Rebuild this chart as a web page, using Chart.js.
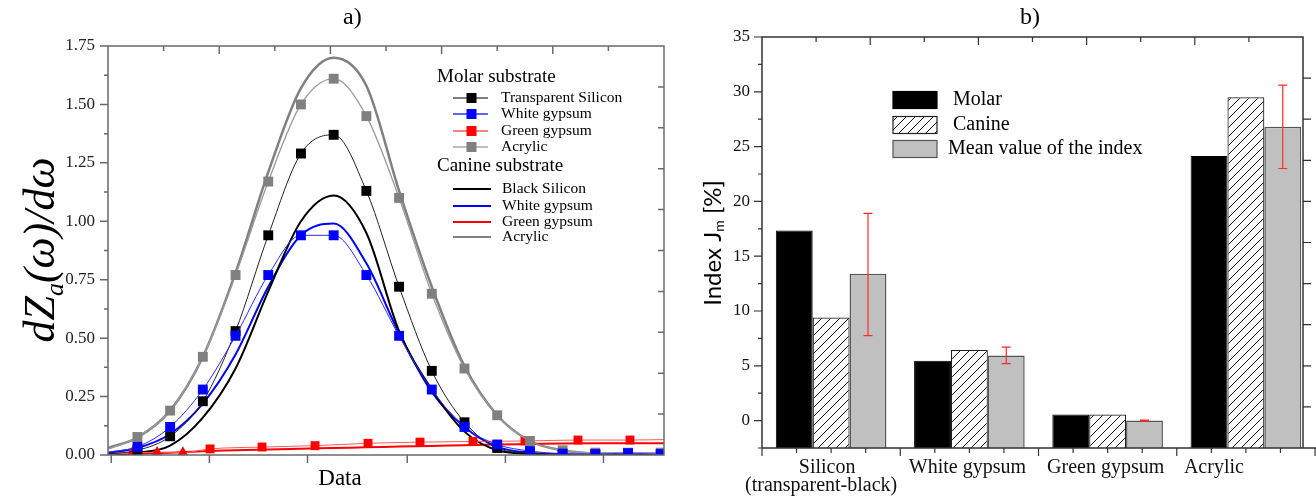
<!DOCTYPE html>
<html><head><meta charset="utf-8">
<script src="https://cdn.jsdelivr.net/npm/chart.js@4.4.1/dist/chart.umd.min.js"></script>
<style>
html,body{margin:0;padding:0;background:#fff;width:1316px;height:497px;overflow:hidden;}
#ca{position:absolute;left:0;top:0;}
#cb{position:absolute;left:690px;top:0;}
.ttl{position:absolute;top:3px;font:24px "Liberation Serif",serif;color:#000;}
</style></head><body>
<canvas id="ca" width="690" height="497"></canvas>
<canvas id="cb" width="626" height="497"></canvas>
<div class="ttl" style="left:343px">a)</div>
<div class="ttl" style="left:1020px">b)</div>
<script>
// ---------- chart a) data ----------
const dzTicks = [0, 0.25, 0.5, 0.75, 1, 1.25, 1.5, 1.75];
const xMin = 0.1, xMax = 17.1;
const xTicksBottom = [0.2, 3.2, 6.2, 9.25, 12.25, 15.25];
const xSamples = [0.1,1,2,3,4,5,6,7,8,9,10,11,12,13,14,15,16,17,17.1];
const molarTransparentSilicon = [0.005,0.02,0.08,0.23,0.53,0.94,1.29,1.37,1.13,0.72,0.36,0.14,0.03,0.008,0.003,0,0,0,0];
const molarWhiteGypsum = [0.012,0.035,0.12,0.28,0.51,0.77,0.94,0.94,0.77,0.51,0.28,0.12,0.045,0.017,0.006,0.004,0.008,0.004,0.004];
const molarAcrylic = [0.025,0.077,0.19,0.42,0.77,1.17,1.50,1.61,1.45,1.10,0.69,0.37,0.17,0.06,0.02,0.01,0.01,0.01,0.01];
const xGreenMolar = [0.1,0.83,1.6,2.39,3.22,4.81,6.43,8.05,9.64,11.26,12.85,14.47,16.06,17.1];
const molarGreenGypsum = [0.003,0.008,0.012,0.01,0.026,0.034,0.04,0.05,0.055,0.058,0.06,0.064,0.064,0.066];
const canineBlackSilicon = [0,0.01,0.04,0.16,0.37,0.70,1.00,1.11,0.95,0.53,0.28,0.10,0.02,0.005,0,0,0,0,0];
const canineWhiteGypsum = [0.01,0.03,0.09,0.22,0.43,0.72,0.94,0.99,0.82,0.52,0.27,0.12,0.035,0.01,0.003,0,0,0,0];
const canineGreenGypsum = [0.004,0.006,0.01,0.016,0.02,0.024,0.027,0.03,0.033,0.036,0.039,0.042,0.045,0.047,0.049,0.05,0.05,0.05,0.05];
const canineAcrylic = [0.03,0.075,0.19,0.42,0.78,1.21,1.57,1.70,1.58,1.13,0.72,0.38,0.17,0.06,0.02,0.005,0,0,0];
const molarNames = ['Transparent Silicon','White gypsum','Green gypsum','Acrylic'];
const canineNames = ['Black Silicon','White gypsum','Green gypsum','Acrylic'];

// ---------- chart b) data ----------
const categories = ['Silicon', 'White gypsum', 'Green gypsum', 'Acrylic'];
const categorySub = ['(transparent-black)', '', '', ''];
const catX = [0, 1, 2, 3];
const molarIndex = [17.35, 5.45, 0.55, 24.15];
const canineIndex = [9.4, 6.45, 0.55, 29.5];
const meanIndex = [13.4, 5.95, 0.0, 26.8];
const meanErrLow = [7.75, 5.2, -0.05, 23.0];
const meanErrHigh = [18.9, 6.7, 0.05, 30.6];
const indexTicks = [0, 5, 10, 15, 20, 25, 30, 35];
const barLegend = ['Molar', 'Canine', 'Mean value of the index'];

const SERIF = '"Liberation Serif", "Times New Roman", serif';
const SANS = 'Lato, "Open Sans", sans-serif';
const pts = (xs, ys) => xs.map((x, i) => ({x, y: ys[i]}));
const radii = (n, r) => Array.from({length:n}, (_, i) => (i === 0 || i === n-1) ? 0 : r);

function hatchPattern(ctx){
  const c = document.createElement('canvas'); c.width = 9; c.height = 9;
  const g = c.getContext('2d');
  g.fillStyle = '#fff'; g.fillRect(0,0,9,9);
  g.strokeStyle = '#111'; g.lineWidth = 1;
  g.beginPath();
  g.moveTo(-1,10); g.lineTo(10,-1);
  g.moveTo(-5.5,5.5); g.lineTo(5.5,-5.5);
  g.moveTo(3.5,14.5); g.lineTo(14.5,3.5);
  g.stroke();
  return ctx.createPattern(c, 'repeat');
}

function rotText(ctx, cx, cy, parts){
  ctx.save(); ctx.translate(cx, cy); ctx.rotate(-Math.PI/2);
  let w = 0;
  parts.forEach(p => { ctx.font = p.font; p.w = ctx.measureText(p.t).width; w += p.w; });
  let x = -w/2; ctx.fillStyle = '#000'; ctx.textBaseline = 'alphabetic'; ctx.textAlign = 'left';
  parts.forEach(p => { ctx.font = p.font; ctx.fillText(p.t, x, p.dy); x += p.w; });
  ctx.restore();
}

// ---------- chart a) ----------
const frameA = {
  id: 'frameA',
  afterDraw(chart){
    const {ctx, chartArea: a, scales: {x, y}} = chart;
    ctx.save();
    ctx.strokeStyle = '#6a6a6a'; ctx.lineWidth = 1.5;
    ctx.strokeRect(a.left, a.top, a.right - a.left, a.bottom - a.top);
    ctx.beginPath();
    for (let v = 0; v <= 1.75001; v += 0.125){
      const py = y.getPixelForValue(v);
      const major = Math.abs(v/0.25 - Math.round(v/0.25)) < 1e-6;
      ctx.moveTo(a.left, py); ctx.lineTo(a.left - (major ? 8 : 4), py);
    }
    xTicksBottom.forEach(v => { const px = x.getPixelForValue(v); ctx.moveTo(px, a.bottom); ctx.lineTo(px, a.bottom + 8); });
    for (let k = 1; k < 10; k++){
      const px = x.getPixelForValue(xMin + k*(xMax - xMin)/10);
      ctx.moveTo(px, a.top); ctx.lineTo(px, a.top + (k % 2 === 0 ? 8 : 5));
      const py = y.getPixelForValue(k*1.75/10);
      ctx.moveTo(a.right, py); ctx.lineTo(a.right - 6, py);
    }
    ctx.stroke();
    // y title with subscript
    rotText(ctx, 40, 250, [
      {t:'dZ', font:'italic 44px ' + SERIF, dy:14},
      {t:'a', font:'italic 26px ' + SERIF, dy:23},
      {t:'(ω)/dω', font:'italic 44px ' + SERIF, dy:14}
    ]);
    // x title
    ctx.fillStyle = '#000'; ctx.textAlign = 'center'; ctx.textBaseline = 'middle';
    ctx.font = '23px ' + SERIF;
    ctx.fillText('Data', 340, 479);
    // legend
    ctx.textBaseline = 'middle'; ctx.textAlign = 'left';
    ctx.font = '19px ' + SERIF;
    ctx.fillText('Molar substrate', 437, 77);
    ctx.fillText('Canine substrate', 437, 166);
    const mLine = ['#555', '#3030ff', '#ff5a5a', '#a8a8a8'];
    const mMark = ['#000', '#0000ff', '#ff0000', '#808080'];
    const mY = [98, 114, 131, 147];
    ctx.font = '15.5px ' + SERIF;
    molarNames.forEach((n, i) => {
      ctx.strokeStyle = mLine[i]; ctx.lineWidth = 1.5;
      ctx.beginPath(); ctx.moveTo(453, mY[i]); ctx.lineTo(488, mY[i]); ctx.stroke();
      ctx.fillStyle = mMark[i]; ctx.fillRect(466.5, mY[i] - 5, 10, 10);
      ctx.fillStyle = '#000'; ctx.fillText(n, 501, mY[i]);
    });
    const cLine = ['#000', '#0000ff', '#ff0000', '#808080'];
    const cY = [189, 206, 222, 237];
    canineNames.forEach((n, i) => {
      ctx.strokeStyle = cLine[i]; ctx.lineWidth = 2;
      ctx.beginPath(); ctx.moveTo(453, cY[i]); ctx.lineTo(491, cY[i]); ctx.stroke();
      ctx.fillStyle = '#000'; ctx.fillText(n, 502, cY[i]);
    });
    ctx.restore();
  }
};

const lineDefaults = {cubicInterpolationMode: 'monotone', fill: false, pointHoverRadius: 0};
new Chart(document.getElementById('ca'), {
  type: 'line',
  data: {
    datasets: [
      Object.assign({label: 'Molar ' + molarNames[1], data: pts(xSamples, molarWhiteGypsum), borderColor: '#2a2aff', borderWidth: 1,
        pointStyle: 'rect', pointRadius: radii(xSamples.length, 7), pointBackgroundColor: '#0000ff', pointBorderColor: '#0000ff', pointBorderWidth: 0, order: 1}, lineDefaults),
      Object.assign({label: 'Molar ' + molarNames[3], data: pts(xSamples, molarAcrylic), borderColor: '#9a9a9a', borderWidth: 1.3,
        pointStyle: 'rect', pointRadius: radii(xSamples.length, 7), pointBackgroundColor: '#808080', pointBorderColor: '#808080', pointBorderWidth: 0, order: 2}, lineDefaults),
      Object.assign({label: 'Molar ' + molarNames[0], data: pts(xSamples, molarTransparentSilicon), borderColor: '#222', borderWidth: 1,
        pointStyle: 'rect', pointRadius: radii(xSamples.length, 7), pointBackgroundColor: '#000', pointBorderColor: '#000', pointBorderWidth: 0, order: 3}, lineDefaults),
      Object.assign({label: 'Molar ' + molarNames[2], data: pts(xGreenMolar, molarGreenGypsum), borderColor: '#ff5a5a', borderWidth: 1,
        pointStyle: xGreenMolar.map((v, i) => (i >= 1 && i <= 3) ? 'triangle' : 'rect'),
        pointRadius: radii(xGreenMolar.length, 6.3), pointBackgroundColor: '#ff0000', pointBorderColor: '#ff0000', pointBorderWidth: 0, order: 4}, lineDefaults),
      Object.assign({label: 'Canine ' + canineNames[0], data: pts(xSamples, canineBlackSilicon), borderColor: '#000', borderWidth: 2, pointRadius: 0, order: 10}, lineDefaults),
      Object.assign({label: 'Canine ' + canineNames[1], data: pts(xSamples, canineWhiteGypsum), borderColor: '#0000ff', borderWidth: 2, pointRadius: 0, order: 11}, lineDefaults),
      Object.assign({label: 'Canine ' + canineNames[2], data: pts(xSamples, canineGreenGypsum), borderColor: '#ff0000', borderWidth: 2, pointRadius: 0, order: 12}, lineDefaults),
      Object.assign({label: 'Canine ' + canineNames[3], data: pts(xSamples, canineAcrylic), borderColor: '#808080', borderWidth: 2.5, pointRadius: 0, order: 13}, lineDefaults)
    ]
  },
  options: {
    responsive: false, animation: false, devicePixelRatio: 1,
    layout: {padding: {left: 0, top: 46, right: 26, bottom: 0}},
    plugins: {legend: {display: false}, tooltip: {enabled: false}},
    scales: {
      x: {type: 'linear', min: xMin, max: xMax, afterFit: s => { s.height = 42; },
          ticks: {display: false}, grid: {display: false, drawTicks: false}, border: {display: false},
          title: {display: false, text: 'Data'}},
      y: {min: 0, max: 1.75, afterFit: s => { s.width = 108; },
          afterBuildTicks: s => { s.ticks = dzTicks.map(v => ({value: v})); },
          ticks: {callback: v => v.toFixed(2), color: '#222', font: {family: SERIF, size: 17}, padding: 13},
          grid: {display: false, drawTicks: false}, border: {display: false}}
    }
  },
  plugins: [frameA]
});

// ---------- chart b) ----------
const xbMin = -0.5, xbMax = 3.413;
const labelNudge = [-4, -2, -2, -32];
const frameB = {
  id: 'frameB',
  afterDraw(chart){
    const {ctx, chartArea: a, scales: {x, y}} = chart;
    ctx.save();
    // error bars on the mean bars
    const meta = chart.getDatasetMeta(2);
    ctx.strokeStyle = '#ff2a2a'; ctx.lineWidth = 1.2;
    ctx.beginPath();
    meta.data.forEach((bar, i) => {
      const px = bar.x, lo = y.getPixelForValue(meanErrLow[i]), hi = y.getPixelForValue(meanErrHigh[i]);
      ctx.moveTo(px, lo); ctx.lineTo(px, hi);
      ctx.moveTo(px - 4.5, lo); ctx.lineTo(px + 4.5, lo);
      ctx.moveTo(px - 4.5, hi); ctx.lineTo(px + 4.5, hi);
    });
    ctx.stroke();
    // frame
    ctx.strokeStyle = '#333'; ctx.lineWidth = 1.5;
    ctx.beginPath();
    ctx.moveTo(a.left, a.bottom); ctx.lineTo(a.left, a.top); ctx.lineTo(a.right, a.top); ctx.lineTo(a.right, a.bottom);
    ctx.moveTo(a.left, a.bottom); ctx.lineTo(chart.width, a.bottom);
    ctx.stroke();
    ctx.lineWidth = 1.2;
    ctx.beginPath();
    for (let v = -2.5; v <= 35.001; v += 2.5){
      const py = y.getPixelForValue(v);
      const major = Math.abs(v/5 - Math.round(v/5)) < 1e-6;
      ctx.moveTo(a.left, py); ctx.lineTo(a.left - (major ? 8 : 4), py);
    }
    for (let v = -0.5; v <= 3.5001; v += 0.25){
      const px = x.getPixelForValue(v);
      const major = Math.abs((v + 0.5) - Math.round(v + 0.5)) < 1e-6;
      ctx.moveTo(px, a.bottom); ctx.lineTo(px, a.bottom + (major ? 8 : 5));
    }
    for (let k = 1; k < 10; k++){
      const px = x.getPixelForValue(xbMin + k*(xbMax - xbMin)/10);
      ctx.moveTo(px, a.top); ctx.lineTo(px, a.top + (k % 2 === 0 ? 8 : 5));
      const py = y.getPixelForValue(-2.5 + k*37.5/10);
      ctx.moveTo(a.right, py); ctx.lineTo(a.right + 8, py);
    }
    ctx.stroke();
    // category labels
    ctx.fillStyle = '#111'; ctx.textAlign = 'center'; ctx.textBaseline = 'middle';
    ctx.font = '20px ' + SERIF;
    catX.forEach((v, i) => {
      const px = x.getPixelForValue(v) + labelNudge[i];
      ctx.fillText(categories[i], px, a.bottom + 20);
      if (categorySub[i]) ctx.fillText(categorySub[i], px - 6, a.bottom + 38);
    });
    // y title
    rotText(ctx, 22, 243, [
      {t:'Index J', font:'24px ' + SANS, dy:9},
      {t:'m', font:'14px ' + SANS, dy:12},
      {t:' [%]', font:'24px ' + SANS, dy:9}
    ]);
    // legend
    const rows = [100, 125, 149];
    const fills = ['#000', hatchPattern(ctx), '#c0c0c0'];
    const strokes = ['#000', '#222', '#555'];
    ctx.textBaseline = 'middle'; ctx.textAlign = 'left'; ctx.font = '20px ' + SERIF;
    barLegend.forEach((t, i) => {
      ctx.fillStyle = fills[i]; ctx.fillRect(203, rows[i] - 8.5, 44, 17);
      ctx.strokeStyle = strokes[i]; ctx.lineWidth = 1.2; ctx.strokeRect(203, rows[i] - 8.5, 44, 17);
      ctx.fillStyle = '#000'; ctx.fillText(t, i === 2 ? 258 : 263, rows[i]);
    });
    ctx.restore();
  }
};

const ctxB = document.getElementById('cb').getContext('2d');
const barCommon = {base: -2.5, categoryPercentage: 0.8, barPercentage: 1.0, borderSkipped: 'start'};
new Chart(ctxB, {
  type: 'bar',
  data: {
    datasets: [
      Object.assign({label: barLegend[0], data: pts(catX, molarIndex), backgroundColor: '#000', borderColor: '#000', borderWidth: 1}, barCommon),
      Object.assign({label: barLegend[1], data: pts(catX, canineIndex), backgroundColor: hatchPattern(ctxB), borderColor: '#222', borderWidth: 1.2}, barCommon),
      Object.assign({label: barLegend[2], data: pts(catX, meanIndex), backgroundColor: '#c0c0c0', borderColor: '#555', borderWidth: 1.5}, barCommon)
    ]
  },
  options: {
    responsive: false, animation: false, devicePixelRatio: 1,
    layout: {padding: {left: 0, top: 37, right: 13, bottom: 0}},
    plugins: {legend: {display: false}, tooltip: {enabled: false}},
    scales: {
      x: {type: 'linear', offset: false, min: xbMin, max: xbMax, afterFit: s => { s.height = 49; },
          afterBuildTicks: s => { s.ticks = catX.map(v => ({value: v})); },
          ticks: {display: false},
          grid: {display: false, drawTicks: false}, border: {display: false}},
      y: {min: -2.5, max: 35, afterFit: s => { s.width = 72; },
          afterBuildTicks: s => { s.ticks = indexTicks.map(v => ({value: v})); },
          ticks: {color: '#111', font: {family: SERIF, size: 17}, padding: 12},
          grid: {display: false, drawTicks: false}, border: {display: false}}
    }
  },
  plugins: [frameB]
});
</script>
</body></html>
